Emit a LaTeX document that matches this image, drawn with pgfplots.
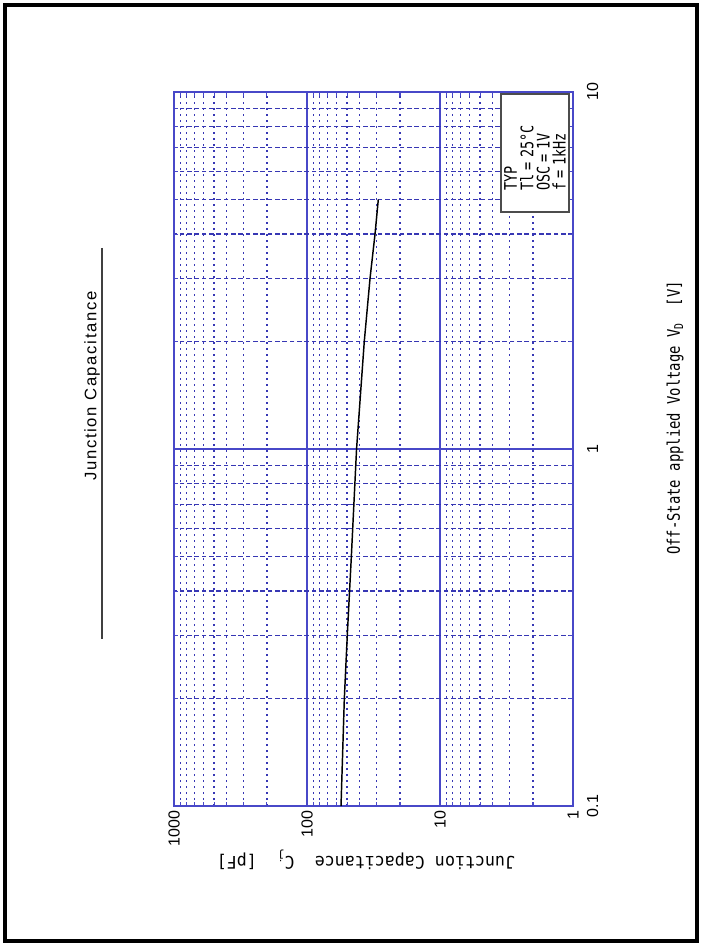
\documentclass[border=0pt]{standalone}
\usepackage{fontspec}
\setmainfont{Liberation Sans}
\newfontfamily\titlefont[LetterSpace=10]{Liberation Sans}
\newfontfamily\capfont[FakeStretch=0.96]{DejaVu Sans Mono}
\newfontfamily\voltfont[FakeStretch=0.8]{DejaVu Sans Mono}
\newfontfamily\legfont[FakeStretch=0.78]{DejaVu Sans Mono}
\usepackage{pgfplots}
\pgfplotsset{compat=1.18}

\definecolor{majblue}{RGB}{72,72,200}
\definecolor{minblue}{RGB}{55,55,180}

\begin{document}
\begin{tikzpicture}
  \begin{axis}[
    scale only axis,
    width=299.25pt, height=535.5pt,
    xmode=log, ymode=log,
    x dir=reverse,
    xmin=1, xmax=1000, ymin=0.1, ymax=10,
    axis line style={majblue, line width=1.1pt},
    grid=both,
    major grid style={majblue, line width=1.1pt},
    minor x grid style={minblue, line width=0.85pt, dash pattern=on 1.5pt off 3pt},
    minor y grid style={minblue, line width=0.85pt, dash pattern=on 3.5pt off 2pt},
    tick align=inside,
    tick style={majblue, line width=0.8pt},
    major tick length=4pt, minor tick length=3pt,
    xtick={1,10,100,1000}, xticklabels={1,10,100,1000},
    minor xtick={2,3,4,5,6,7,8,9,20,30,40,50,60,70,80,90,200,300,400,500,600,700,800,900},
    ytick={0.1,1,10}, yticklabels={0.1,1,10},
    minor ytick={0.2,0.3,0.4,0.5,0.6,0.7,0.8,0.9,2,3,4,5,6,7,8,9},
    yticklabel pos=right,
    /pgf/number format/assume math mode=true,
    ticklabel style={font=\fontsize{12}{14}\selectfont},
    x tick label style={rotate=90, anchor=east},
    y tick label style={rotate=90, anchor=north},
    yticklabel shift=7pt,
  ]
    \addplot[black, line width=1.1pt, mark=none] coordinates {
      (55.5,0.1) (52.4,0.2) (49.8,0.3) (46.4,0.5) (42.4,1)
      (37.1,2) (33.6,3) (30.8,4) (29.1,5)
    };
    \coordinate (L) at (axis cs:1000,0.1);
  \end{axis}
  \begin{scope}[shift={(L)}]
    \path[use as bounding box] (-130.5pt,-103.5pt) rectangle (396pt,604.5pt);
    \draw[line width=3pt] (-127pt,-101.5pt) rectangle (392.5pt,601pt);
    % title with its rule
    \node[rotate=90, inner sep=0pt] at (-61.5pt,315pt)
      {\titlefont\fontsize{12.5}{14}\selectfont Junction Capacitance};
    \draw[black!75, line width=0.8pt] (-54pt,418.5pt) -- (-54pt,125.25pt);
    % conditions box
    \node[draw=black!70, fill=white, line width=1pt, rotate=90,
          minimum width=88.5pt, minimum height=51pt,
          text width=57pt, align=left, inner sep=0pt] at (270.75pt,489.75pt)
      {\legfont\fontsize{13}{12.3}\selectfont TYP\\Tl = 25°C\\OSC = 1V\\f = 1kHz};
    % axis labels
    \node[rotate=180, inner sep=0pt] at (144pt,-40.5pt)
      {\capfont\fontsize{13}{15}\selectfont Junction Capacitance\ \ C\textsubscript{j}\ \ [pF]};
    \node[rotate=90, inner sep=0pt] at (375.75pt,291pt)
      {\voltfont\fontsize{13}{15}\selectfont Off-State applied Voltage V\textsubscript{D}\ \ [V]};
  \end{scope}
\end{tikzpicture}
\end{document}
